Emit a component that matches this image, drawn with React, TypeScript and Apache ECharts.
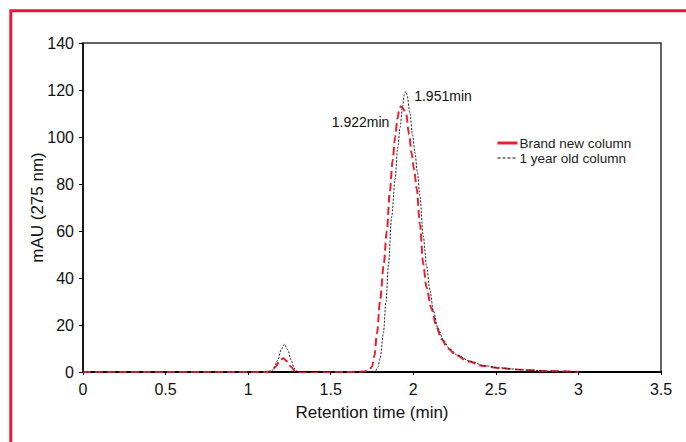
import React, { useEffect, useRef } from "react";
import * as echarts from "echarts";

const xTicks = [0, 0.5, 1, 1.5, 2, 2.5, 3, 3.5];
const yTicks = [0, 20, 40, 60, 80, 100, 120, 140];

const seriesNames = ["Brand new column", "1 year old column"];

const redTime = [0, 1.10, 1.14, 1.17, 1.19, 1.213, 1.235, 1.26, 1.285, 1.32, 1.40, 1.48, 1.60, 1.70, 1.735, 1.75, 1.765, 1.78, 1.80, 1.82, 1.84, 1.857, 1.875, 1.89, 1.905, 1.915, 1.924, 1.935, 1.956, 1.975, 1.99, 2.005, 2.021, 2.04, 2.06, 2.08, 2.11, 2.14, 2.17, 2.21, 2.26, 2.33, 2.42, 2.52, 2.67, 2.82, 3.0];
const redValues = [0, 0, 0.3, 2.5, 4.8, 5.8, 4.6, 2.2, 0.4, -0.3, -0.4, -0.2, 0, 0.2, 1.0, 2.3, 7, 16.5, 31, 45, 60, 76, 90, 100, 108, 111.5, 113, 112.5, 110, 101, 93, 86, 78, 63, 46, 36, 27, 19.5, 14, 10, 7.2, 4.6, 2.6, 1.6, 0.9, 0.4, 0.1];

const blackTime = [0, 1.12, 1.15, 1.18, 1.20, 1.219, 1.24, 1.26, 1.28, 1.30, 1.34, 1.42, 1.50, 1.62, 1.72, 1.769, 1.785, 1.80, 1.819, 1.835, 1.849, 1.869, 1.89, 1.905, 1.92, 1.935, 1.946, 1.954, 1.962, 1.98, 1.995, 2.011, 2.025, 2.04, 2.06, 2.081, 2.10, 2.122, 2.15, 2.182, 2.22, 2.27, 2.34, 2.43, 2.53, 2.67, 2.82, 3.0];
const blackValues = [0, 0, 0.8, 5, 9.5, 11.8, 9.5, 5, 1.5, 0.2, -0.5, -0.6, -0.4, -0.1, 0, 0.3, 2, 6, 16.5, 30, 45, 66, 82, 95, 104, 113, 118, 119.3, 118, 110, 101, 93, 85, 75, 58, 45, 35, 26, 18.5, 13.6, 9.8, 7, 4.7, 2.7, 1.7, 0.9, 0.4, 0.1];

const peakLabels = ["1.922min", "1.951min"];
const peakTimes = [1.922, 1.951];
const peakHeights = [113, 119.3];

const FONT = "'Liberation Sans Narrow', 'Arial Narrow', 'Liberation Sans', sans-serif";

export default function App() {
  const ref = useRef<HTMLDivElement>(null);
  useEffect(() => {
    if (!ref.current) return;
    const chart = echarts.init(ref.current, undefined, { renderer: "svg" });
    const redData = redTime.map((t, i) => [t, redValues[i]]);
    const blackData = blackTime.map((t, i) => [t, blackValues[i]]);
    chart.setOption({
      animation: false,
      backgroundColor: "#ffffff",
      textStyle: { fontFamily: FONT },
      grid: {
        left: 83,
        top: 43,
        right: 25,
        bottom: 70,
        show: true,
        borderColor: "#333",
        borderWidth: 1.5,
        backgroundColor: "transparent",
      },
      legend: {
        orient: "vertical",
        left: 496,
        top: 136,
        itemWidth: 20,
        itemHeight: 10,
        itemGap: 1,
        padding: 0,
        itemStyle: { opacity: 0 },
        textStyle: { fontFamily: FONT, fontSize: 13.5, lineHeight: 14, color: "#222", padding: [0, 0, 0, -3] },
        data: [
          { name: seriesNames[0], itemStyle: { opacity: 0 }, lineStyle: { type: "solid", width: 3, color: "#e8202e" } },
          { name: seriesNames[1], itemStyle: { opacity: 0 }, lineStyle: { type: [3, 2], width: 1.2, color: "#111" } },
        ],
      },
      xAxis: {
        type: "value",
        min: 0,
        max: 3.5,
        interval: 0.5,
        name: "Retention time (min)",
        nameLocation: "middle",
        nameGap: 32,
        nameTextStyle: { fontFamily: FONT, fontSize: 17, color: "#111" },
        axisLine: { show: true, lineStyle: { color: "#000", width: 2 } },
        axisTick: { show: true, length: 3, lineStyle: { color: "#000" } },
        axisLabel: {
          fontFamily: FONT,
          fontSize: 16,
          color: "#111",
          margin: 9,
          formatter: (v: number) => (xTicks.includes(v) ? String(v) : ""),
        },
        splitLine: { show: false },
      },
      yAxis: {
        type: "value",
        min: 0,
        max: 140,
        interval: 20,
        name: "mAU (275 nm)",
        nameLocation: "middle",
        nameGap: 37,
        nameMoveOverlap: false,
        nameTextStyle: { fontFamily: FONT, fontSize: 17, color: "#111" },
        axisLine: { show: true, lineStyle: { color: "#000", width: 1.5 } },
        axisTick: { show: true, length: 4, lineStyle: { color: "#000" } },
        axisLabel: {
          fontFamily: FONT,
          fontSize: 16,
          color: "#111",
          margin: 9,
          formatter: (v: number) => (yTicks.includes(v) ? String(v) : ""),
        },
        splitLine: { show: false },
      },
      series: [
        {
          name: seriesNames[0],
          type: "line",
          data: redData,
          showSymbol: false,
          symbol: "none",
          smooth: 0.3,
          smoothMonotone: "x",
          lineStyle: { color: "#e8202e", width: 2, type: [8, 4] },
          itemStyle: { color: "#e8202e" },
          z: 3,
          markPoint: {
            symbol: "circle",
            symbolSize: 0,
            data: [
              {
                coord: [peakTimes[0], peakHeights[0]],
                label: {
                  show: true,
                  position: "left",
                  distance: 11,
                  offset: [0, 16],
                  formatter: peakLabels[0],
                  fontFamily: FONT,
                  fontSize: 14,
                  color: "#111",
                },
              },
            ],
          },
        },
        {
          name: seriesNames[1],
          type: "line",
          data: blackData,
          showSymbol: false,
          symbol: "none",
          smooth: 0.3,
          smoothMonotone: "x",
          lineStyle: { color: "#222", width: 1, type: [2, 1.5] },
          itemStyle: { color: "#222" },
          z: 4,
          markPoint: {
            symbol: "circle",
            symbolSize: 0,
            data: [
              {
                coord: [peakTimes[1], peakHeights[1]],
                label: {
                  show: true,
                  position: "right",
                  distance: 9,
                  offset: [0, 4],
                  formatter: peakLabels[1],
                  fontFamily: FONT,
                  fontSize: 14,
                  color: "#111",
                },
              },
            ],
          },
        },
      ],
      graphic: [
        {
          type: "polyline",
          shape: { points: [[10.8, 442], [10.8, 10.8], [686, 10.8]] },
          style: { stroke: "#e4173e", lineWidth: 3, fill: "none" },
          silent: true,
        },
      ],
    });
    return () => chart.dispose();
  }, []);
  return (
    <div
      ref={ref}
      style={{ position: "fixed", left: 0, top: 0, width: 686, height: 442 }}
    />
  );
}
